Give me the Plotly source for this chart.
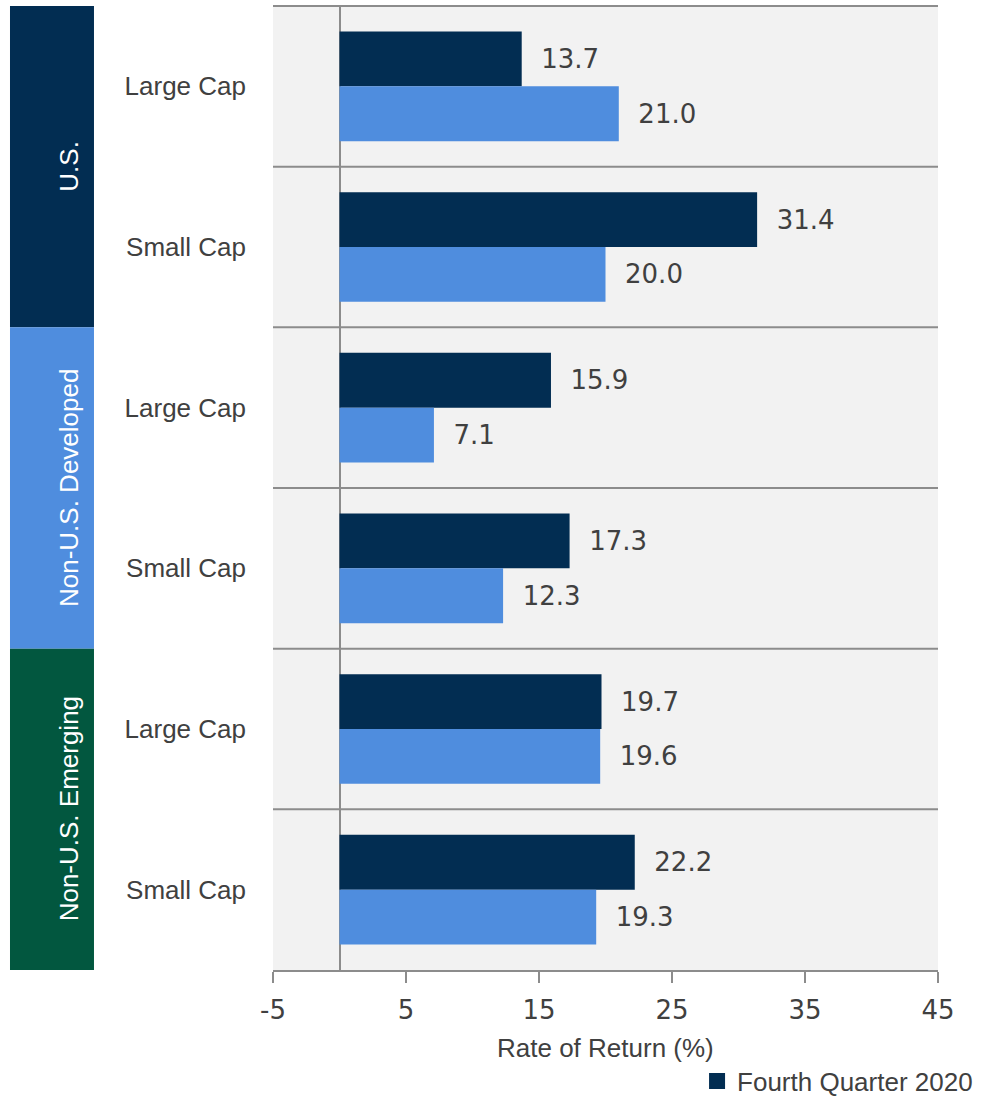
import plotly.graph_objects as go

# ---- data ----
category_ids = ["US_L", "US_S", "DEV_L", "DEV_S", "EM_L", "EM_S"]
category_labels = ["Large Cap", "Small Cap", "Large Cap", "Small Cap", "Large Cap", "Small Cap"]
q4_2020 = [13.7, 31.4, 15.9, 17.3, 19.7, 22.2]
year_2020 = [21.0, 20.0, 7.1, 12.3, 19.6, 19.3]
groups = ["U.S.", "Non-U.S. Developed", "Non-U.S. Emerging"]
group_members = [["US_L", "US_S"], ["DEV_L", "DEV_S"], ["EM_L", "EM_S"]]
x_ticks = [-5, 5, 15, 25, 35, 45]
x_title = "Rate of Return (%)"

# ---- styles ----
NAVY = "#022D52"
LIGHT = "#4F8DDE"
GREEN = "#02573F"
TEXT = "#404040"
GRID = "#8C8C8C"
FONT = "Liberation Sans, Arial, sans-serif"
NUMFONT = "DejaVu Sans, sans-serif"
group_colors = [NAVY, LIGHT, GREEN]

fig = go.Figure()
for vals, name, color in [(q4_2020, "Fourth Quarter 2020", NAVY), (year_2020, "Year 2020", LIGHT)]:
    fig.add_trace(go.Bar(
        y=category_ids, x=vals, orientation="h", name=name,
        marker=dict(color=color, line=dict(width=0)),
        texttemplate="\u00a0\u00a0%{x:.1f}", textposition="outside",
        textfont=dict(size=26, color=TEXT, family=NUMFONT), cliponaxis=False,
        showlegend=False,
    ))
# legend entry
fig.add_trace(go.Scatter(
    x=[None], y=[None], mode="markers", name="Fourth Quarter 2020",
    marker=dict(symbol="square", size=18, color=NAVY), showlegend=True,
))

shapes = []
n = len(category_ids)
for i in range(n):
    shapes.append(dict(type="line", xref="paper", x0=0, x1=1, yref="y",
                       y0=i - 0.5, y1=i - 0.5, line=dict(color=GRID, width=2), layer="above"))
annotations = []
for g, (name, members) in enumerate(zip(groups, group_members)):
    i0 = category_ids.index(members[0])
    i1 = category_ids.index(members[-1])
    shapes.append(dict(type="rect", xref="paper", x0=-0.3955, x1=-0.2692, yref="y",
                       y0=i0 - 0.5, y1=i1 + 0.5, fillcolor=group_colors[g],
                       line=dict(width=0), layer="below"))
    annotations.append(dict(text=name, xref="paper", x=-0.3323, yref="y",
                            y=(i0 + i1) / 2, textangle=-90, showarrow=False,
                            font=dict(size=26, color="white", family=FONT)))
# x-axis title
annotations.append(dict(text=x_title, xref="paper", x=0.5, yref="paper", y=-0.0808,
                        yanchor="middle", showarrow=False,
                        font=dict(size=26, color=TEXT, family=FONT)))

fig.update_layout(
    width=981, height=1097,
    margin=dict(l=273, r=43, t=5, b=127, autoexpand=False),
    plot_bgcolor="#F2F2F2", paper_bgcolor="white",
    barmode="group", bargap=0.317, bargroupgap=0,
    font=dict(family=FONT, size=26, color=TEXT),
    shapes=shapes, annotations=annotations,
    legend=dict(orientation="h", xref="container", x=0.997, xanchor="right",
                yref="container", y=0.0146, yanchor="middle",
                font=dict(size=26, color=TEXT), bgcolor="rgba(0,0,0,0)"),
    xaxis=dict(range=[-5, 45], tickvals=x_ticks, ticktext=[str(t) for t in x_ticks],
               showgrid=False, zeroline=True, zerolinecolor=GRID, zerolinewidth=2,
               showline=True, linecolor=GRID, linewidth=2, ticks="outside",
               ticklen=11, tickwidth=2, tickcolor=GRID,
               tickfont=dict(size=26, color=TEXT, family=NUMFONT), ticklabelstandoff=5,
               fixedrange=True),
    yaxis=dict(categoryorder="array", categoryarray=category_ids,
               autorange="reversed", tickvals=category_ids, ticktext=category_labels,
               showgrid=False, zeroline=False, showline=False, ticks="",
               tickfont=dict(size=26, color=TEXT), ticklabelstandoff=26,
               fixedrange=True),
)

fig.write_html("out.html", config={"displayModeBar": False},
               post_script="document.body.style.margin='0';")
